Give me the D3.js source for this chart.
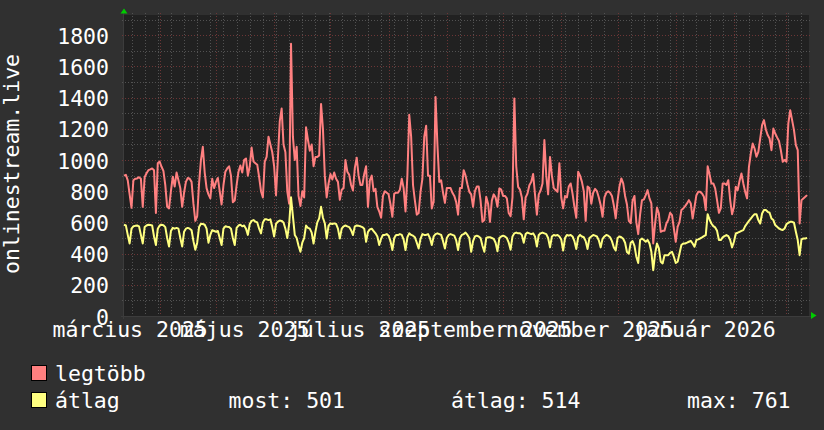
<!DOCTYPE html>
<html><head><meta charset="utf-8">
<script src="https://cdn.jsdelivr.net/npm/d3@7"></script>
<style>
html,body{margin:0;padding:0;background:#303030;}
svg{display:block;}
text{font-family:"DejaVu Sans Mono",monospace;fill:#ffffff;}
</style></head><body>
<svg id="c" width="824" height="430"></svg>
<script>
// ---- data (daily, starting 2025-03-13) ----
const seriesNames = ["legtöbb", "átlag"];
const seriesColors = ["#ff8080", "#ffff80"];
const startDay = "2025-03-13";
const endDay = "2026-03-13";
const legtobb = [
900,905,870,780,694,870,880,882,890,880,
700,890,915,935,940,946,935,660,980,990,
957,930,839,700,690,800,893,830,920,870,
820,700,790,860,885,880,860,720,610,640,
850,1000,1085,920,820,780,754,880,820,860,
885,800,715,840,925,946,960,900,730,740,
840,925,965,920,1000,1010,900,960,1080,990,
980,970,890,800,760,990,1020,1150,1100,1050,
960,775,1010,1250,1330,1100,1050,800,720,1745,
1150,1000,1085,770,705,800,760,1210,1130,1060,
1100,960,1020,1020,1030,1360,1200,900,760,850,
910,875,920,880,860,745,810,820,1000,925,
905,840,805,950,1015,900,840,840,910,960,
700,870,900,800,815,700,670,630,770,800,
790,780,715,636,785,790,790,810,880,820,
670,900,1290,1150,840,740,650,660,796,880,
1150,1220,900,900,690,735,1405,1100,860,870,
790,725,820,820,820,790,770,730,650,820,
820,935,900,845,796,780,700,800,830,830,
740,604,615,764,720,604,740,780,760,700,
818,810,770,770,755,660,640,760,1395,960,
828,810,760,620,760,785,838,860,910,780,
650,780,805,850,1128,900,780,1020,900,820,
808,796,980,760,690,770,760,830,850,785,
700,630,925,900,860,800,610,830,820,720,
790,815,800,760,710,636,760,790,800,790,
770,710,626,740,830,882,850,770,715,610,
595,740,770,600,525,650,743,747,775,807,
754,722,465,593,695,657,540,546,546,593,
615,662,647,561,476,572,604,679,690,705,
722,743,722,625,700,775,796,796,786,764,
679,960,910,850,850,818,743,662,690,850,
850,840,871,743,653,700,828,807,867,914,
850,796,754,956,1042,1106,1074,1021,1053,1138,
1224,1256,1196,1160,1138,1063,1202,1170,1145,1123,
1063,989,1000,989,1235,1320,1256,1192,1096,1063,
593,743,754,764,775
];
const atlag = [
585,580,520,465,560,575,578,580,575,520,
465,570,580,585,583,580,510,455,560,580,
585,582,570,500,445,545,565,560,565,560,
500,445,540,560,565,560,550,480,425,470,
570,592,590,585,560,470,520,550,545,540,
545,500,455,560,575,572,570,560,500,455,
565,580,585,575,580,560,520,590,610,615,
605,600,560,530,600,620,620,615,620,570,
510,590,605,612,610,600,560,500,590,761,
640,520,500,450,412,470,500,580,565,560,
535,465,540,600,626,700,630,595,497,580,
594,590,594,590,560,497,560,575,580,575,
570,550,519,575,580,578,575,570,560,476,
540,555,560,545,530,510,455,495,520,520,
525,515,480,423,500,520,519,525,520,490,
423,505,530,520,515,505,470,433,495,525,
520,520,525,500,455,510,525,530,525,520,
480,433,500,520,525,520,515,485,423,500,
520,525,535,520,500,412,480,510,515,510,
500,450,412,500,505,505,500,495,470,415,
500,510,515,510,500,470,425,510,530,535,
530,530,520,470,525,535,530,525,530,510,
445,520,530,535,530,525,500,440,510,520,
515,520,510,490,420,500,520,515,520,510,
480,430,505,520,510,505,480,430,500,510,
520,515,510,485,440,495,510,520,515,505,
480,440,420,500,510,505,495,470,410,400,
470,480,450,380,340,487,497,487,476,487,
465,412,294,401,465,433,348,337,390,390,
390,405,412,380,340,348,401,455,465,465,
470,476,482,465,444,487,491,497,504,512,
519,653,619,593,576,568,546,487,487,504,
512,519,512,487,440,476,529,534,540,546,
551,576,593,610,625,640,653,653,615,593,
657,679,679,668,662,625,615,583,572,561,
555,551,561,589,598,604,604,598,540,487,
390,491,497,497,501
];
const yTicks = [0,200,400,600,800,1000,1200,1400,1600,1800];
const xLabels = ["március 2025","május 2025","július 2025","szeptember 2025","november 2025","január 2026"];
const xLabelDates = ["2025-03-16","2025-05-16","2025-07-16","2025-09-16","2025-11-16","2026-01-16"];
const statLabels = ["most:", "átlag:", "max:"];
const statValues = [501, 514, 761];
const yTitle = "onlinestream.live";

// ---- layout ----
const L = 124, R = 809, T = 15, B = 316;
const parse = d3.utcParse("%Y-%m-%d");
const t0 = parse(startDay), t1 = parse(endDay);
const x = d3.scaleUtc().domain([t0, t1]).range([L, R]);
const y = d3.scaleLinear().domain([0, 1930]).range([B, T]);
const dates = legtobb.map((v, i) => d3.utcDay.offset(t0, i));

const svg = d3.select("#c");
svg.append("rect").attr("width", 824).attr("height", 430).attr("fill", "#303030");
svg.append("rect").attr("x", L).attr("y", T).attr("width", R - L).attr("height", B - T).attr("fill", "#212121");

const grid = svg.append("g").attr("shape-rendering", "crispEdges");
const minorC = "#525252", majorC = "#6c3636";
// minor horizontal (every 100)
const minorY = d3.range(100, 1930, 100);
grid.selectAll(".hm").data(minorY).enter().append("line")
  .attr("x1", L - 2).attr("x2", R + 2)
  .attr("y1", d => Math.round(y(d)) + 0.5).attr("y2", d => Math.round(y(d)) + 0.5)
  .attr("stroke", minorC).attr("stroke-dasharray", "1,2");
// minor vertical (weekly, Mondays)
const weeks = d3.utcMonday.range(t0, t1);
grid.selectAll(".vm").data(weeks).enter().append("line")
  .attr("x1", d => Math.round(x(d)) + 0.5).attr("x2", d => Math.round(x(d)) + 0.5)
  .attr("y1", T - 2).attr("y2", B + 2)
  .attr("stroke", minorC).attr("stroke-dasharray", "1,2");
// major horizontal (every 200)
grid.selectAll(".hM").data(yTicks.filter(v => v > 0)).enter().append("line")
  .attr("x1", L - 2).attr("x2", R + 2)
  .attr("y1", d => Math.round(y(d)) + 0.5).attr("y2", d => Math.round(y(d)) + 0.5)
  .attr("stroke", majorC).attr("stroke-dasharray", "1,2");
// major vertical (month starts)
const months = d3.utcMonth.range(t0, t1);
grid.selectAll(".vM").data(months).enter().append("line")
  .attr("x1", d => Math.round(x(d)) + 0.5).attr("x2", d => Math.round(x(d)) + 0.5)
  .attr("y1", T - 2).attr("y2", B + 3)
  .attr("stroke", majorC).attr("stroke-dasharray", "1,2");

// axes lines
grid.append("line").attr("x1", L - 0.5).attr("x2", L - 0.5).attr("y1", T - 3).attr("y2", B + 3).attr("stroke", "#3c3c3c");
grid.append("line").attr("x1", L - 3).attr("x2", R + 3).attr("y1", B + 0.5).attr("y2", B + 0.5).attr("stroke", "#3c3c3c");

// arrows
svg.append("path").attr("d", `M${L-3.5},13.5 L${L+3.5},13.5 L${L},8.5 Z`).attr("fill", "#00cc00");
svg.append("path").attr("d", `M811,312 L811,319 L816.5,315.5 Z`).attr("fill", "#00cc00");

// lines
const line = d3.line().x((d, i) => x(dates[i])).y(d => y(d));
[legtobb, atlag].forEach((s, k) => {
  svg.append("path").datum(s).attr("d", line).attr("fill", "none")
    .attr("stroke", seriesColors[k]).attr("stroke-width", 2).attr("stroke-linejoin", "round");
});

// y axis labels
const ya = svg.append("g").attr("transform", "translate(109,0)")
  .call(d3.axisLeft(y).tickValues(yTicks).tickSize(0).tickPadding(0).tickFormat(d3.format("d")));
ya.select(".domain").remove();
ya.selectAll("text").attr("x", 0).attr("dy", null).attr("y", 8)
  .style("font-family", '"DejaVu Sans Mono",monospace').style("font-size", "21.5px").attr("fill", "#fff");

// x axis labels
const xa = svg.append("g").attr("transform", `translate(0,${B})`)
  .call(d3.axisBottom(x).tickValues(xLabelDates.map(parse)).tickSize(0)
    .tickFormat((d, i) => xLabels[i]));
xa.select(".domain").remove();
xa.selectAll("text").attr("y", 21).attr("dy", null)
  .style("font-family", '"DejaVu Sans Mono",monospace').style("font-size", "21.5px").attr("fill", "#fff");

// y title
svg.append("text").attr("transform", "translate(18.5,164) rotate(-90)")
  .attr("text-anchor", "middle").style("font-size", "21.5px").text(yTitle);

// legend
const rows = [381, 408];
seriesNames.forEach((n, k) => {
  svg.append("rect").attr("x", 31.5).attr("y", rows[k] - 15.5).attr("width", 15).attr("height", 15)
    .attr("fill", seriesColors[k]).attr("stroke", "#000").attr("stroke-width", 1);
  svg.append("text").attr("x", 55).attr("y", rows[k]).style("font-size", "21.5px").text(n);
});
const statX = [228.5, 451, 687];
statLabels.forEach((s, k) => {
  svg.append("text").attr("x", statX[k]).attr("y", rows[1]).style("font-size", "21.5px")
    .text(s + " " + statValues[k]);
});
</script>
</body></html>
